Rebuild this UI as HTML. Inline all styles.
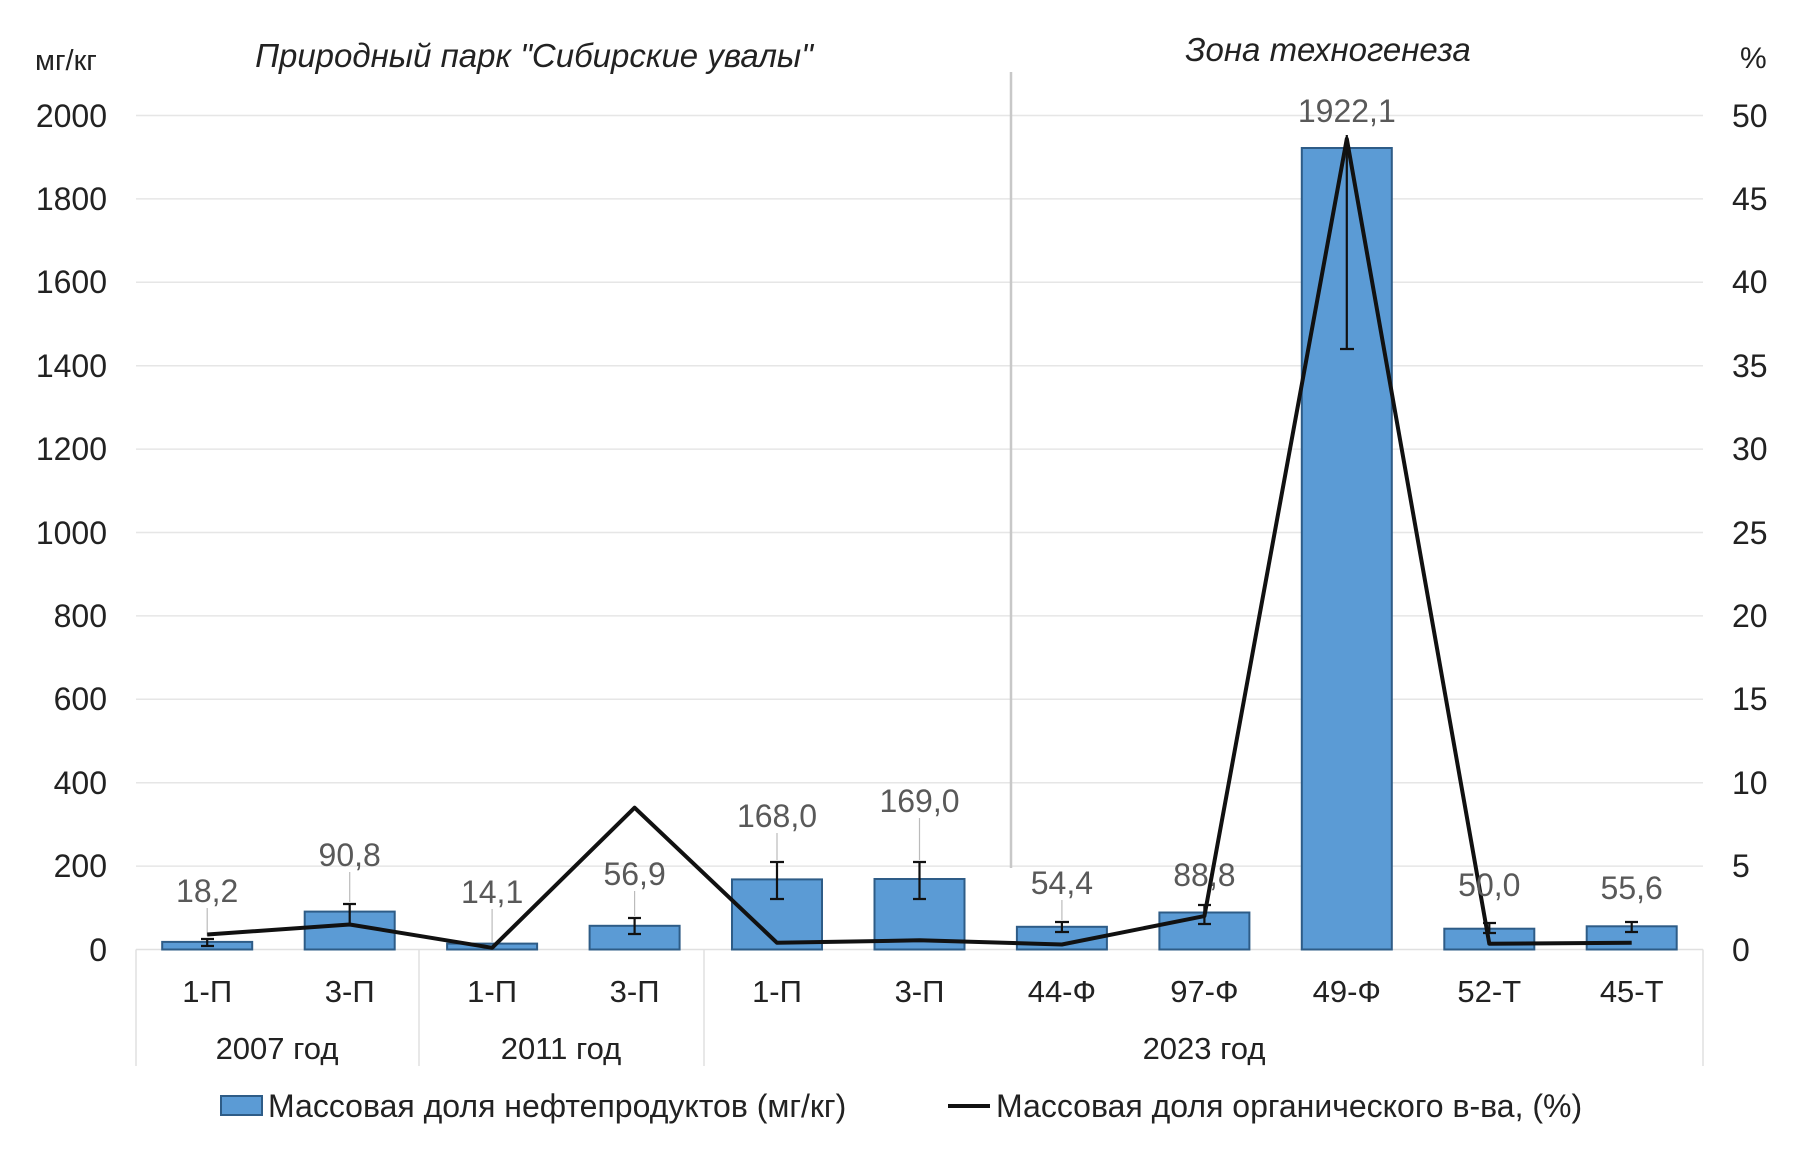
<!DOCTYPE html>
<html><head><meta charset="utf-8"><style>
body{margin:0;background:#fff}
svg text{font-family:"Liberation Sans",Arial,sans-serif}
</style></head><body>
<svg width="1802" height="1148" viewBox="0 0 1802 1148" xmlns="http://www.w3.org/2000/svg">
<rect width="1802" height="1148" fill="#fff"/>
<g stroke="#e6e6e6" stroke-width="1.5">
<line x1="136" x2="1703" y1="115.5" y2="115.5"/><line x1="136" x2="1703" y1="198.9" y2="198.9"/>
<line x1="136" x2="1703" y1="282.3" y2="282.3"/><line x1="136" x2="1703" y1="365.7" y2="365.7"/>
<line x1="136" x2="1703" y1="449.1" y2="449.1"/><line x1="136" x2="1703" y1="532.5" y2="532.5"/>
<line x1="136" x2="1703" y1="615.9" y2="615.9"/><line x1="136" x2="1703" y1="699.3" y2="699.3"/>
<line x1="136" x2="1703" y1="782.7" y2="782.7"/><line x1="136" x2="1703" y1="866.1" y2="866.1"/>
</g>
<g stroke="#e0e0e0" stroke-width="1.5">
<line x1="136" x2="1703" y1="949.5" y2="949.5"/>
<line x1="136" x2="136" y1="949.5" y2="1066"/><line x1="419" x2="419" y1="949.5" y2="1066"/>
<line x1="704" x2="704" y1="949.5" y2="1066"/><line x1="1703" x2="1703" y1="949.5" y2="1066"/>
</g>
<line x1="1011" x2="1011" y1="72" y2="868" stroke="#c8c8c8" stroke-width="2.5"/>
<g font-size="32" fill="#222" text-anchor="end">
<text x="107" y="127">2000</text><text x="107" y="210">1800</text><text x="107" y="293">1600</text>
<text x="107" y="377">1400</text><text x="107" y="460">1200</text><text x="107" y="544">1000</text>
<text x="107" y="627">800</text><text x="107" y="710">600</text><text x="107" y="794">400</text>
<text x="107" y="877">200</text><text x="107" y="961">0</text>
</g>
<g font-size="32" fill="#222" text-anchor="start">
<text x="1732" y="127">50</text><text x="1732" y="210">45</text><text x="1732" y="293">40</text>
<text x="1732" y="377">35</text><text x="1732" y="460">30</text><text x="1732" y="544">25</text>
<text x="1732" y="627">20</text><text x="1732" y="710">15</text><text x="1732" y="794">10</text>
<text x="1732" y="877">5</text><text x="1732" y="961">0</text>
</g>
<text x="35" y="70" font-size="29" fill="#222">мг/кг</text>
<text x="1740" y="68" font-size="30" fill="#222">%</text>
<text x="534" y="67" font-size="33" font-style="italic" fill="#222" text-anchor="middle">Природный парк "Сибирские увалы"</text>
<text x="1328" y="61" font-size="33" font-style="italic" fill="#222" text-anchor="middle">Зона техногенеза</text>
<g fill="#5b9bd5" stroke="#2e5c87" stroke-width="2">
<rect x="162.2" y="941.9" width="90" height="7.6"/><rect x="304.7" y="911.6" width="90" height="37.9"/>
<rect x="447.1" y="943.6" width="90" height="5.9"/><rect x="589.6" y="925.8" width="90" height="23.7"/>
<rect x="732" y="879.4" width="90" height="70.1"/><rect x="874.5" y="879" width="90" height="70.5"/>
<rect x="1016.9" y="926.8" width="90" height="22.7"/><rect x="1159.4" y="912.5" width="90" height="37"/>
<rect x="1301.8" y="148" width="90" height="801.5"/><rect x="1444.3" y="928.7" width="90" height="20.8"/>
<rect x="1586.7" y="926.3" width="90" height="23.2"/>
</g>
<g stroke="#111" stroke-width="2.2">
<path d="M207.2 939V946M201 939H214M201 946H214"/>
<path d="M349.7 904V925M343 904H356M343 925H356"/>
<path d="M634.6 918V934M628 918H641M628 934H641"/>
<path d="M777 862V899M770 862H784M770 899H784"/>
<path d="M919.5 862V899M913 862H926M913 899H926"/>
<path d="M1061.9 922V932M1055 922H1069M1055 932H1069"/>
<path d="M1204.4 905V924M1198 905H1211M1198 924H1211"/>
<path d="M1346.8 135V349M1340 349H1354"/>
<path d="M1489.3 923V933M1483 923H1496M1483 933H1496"/>
<path d="M1631.7 922V932M1625 922H1638M1625 932H1638"/>
</g>
<g stroke="#bbb" stroke-width="1.2">
<line x1="207.2" x2="207.2" y1="908" y2="936"/><line x1="349.7" x2="349.7" y1="872" y2="902"/>
<line x1="492.1" x2="492.1" y1="909" y2="942"/><line x1="634.6" x2="634.6" y1="891" y2="916"/>
<line x1="777" x2="777" y1="833" y2="860"/><line x1="919.5" x2="919.5" y1="818" y2="860"/>
<line x1="1061.9" x2="1061.9" y1="900" y2="920"/>
</g>
<polyline points="207.2,934.5 349.7,924.5 492.1,947.8 634.6,807.7 777,942.8 919.5,940.3 1061.9,944.5 1204.4,916.1 1346.8,138.9 1489.3,943.7 1631.7,942.8" fill="none" stroke="#111" stroke-width="4" stroke-linejoin="round"/>
<g font-size="32" fill="#595959" text-anchor="middle">
<text x="207.2" y="902">18,2</text><text x="349.7" y="866">90,8</text><text x="492.1" y="903">14,1</text>
<text x="634.6" y="885">56,9</text><text x="777" y="827">168,0</text><text x="919.5" y="812">169,0</text>
<text x="1061.9" y="894">54,4</text><text x="1204.4" y="886">88,8</text><text x="1346.8" y="122">1922,1</text>
<text x="1489.3" y="896">50,0</text><text x="1631.7" y="899">55,6</text>
</g>
<g font-size="31" fill="#222" text-anchor="middle">
<text x="207.2" y="1002">1-П</text><text x="349.7" y="1002">3-П</text><text x="492.1" y="1002">1-П</text>
<text x="634.6" y="1002">3-П</text><text x="777" y="1002">1-П</text><text x="919.5" y="1002">3-П</text>
<text x="1061.9" y="1002">44-Ф</text><text x="1204.4" y="1002">97-Ф</text><text x="1346.8" y="1002">49-Ф</text>
<text x="1489.3" y="1002">52-Т</text><text x="1631.7" y="1002">45-Т</text>
<text x="277" y="1059">2007 год</text><text x="561" y="1059">2011 год</text><text x="1204" y="1059">2023 год</text>
</g>
<rect x="221" y="1096" width="41" height="19" fill="#5b9bd5" stroke="#2e5c87" stroke-width="2"/>
<text x="268" y="1117" font-size="32" fill="#222">Массовая доля нефтепродуктов (мг/кг)</text>
<line x1="948" x2="990" y1="1106" y2="1106" stroke="#111" stroke-width="4"/>
<text x="996" y="1117" font-size="32" fill="#222">Массовая доля органического в-ва, (%)</text>
</svg>
</body></html>
